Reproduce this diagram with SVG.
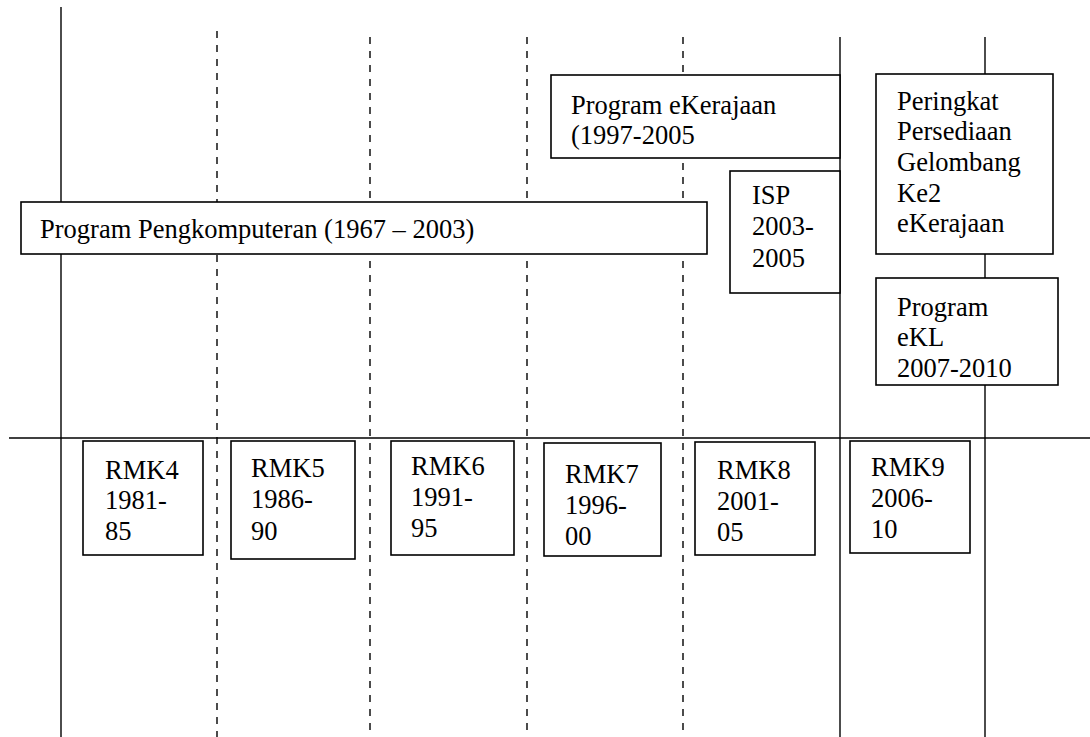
<svg xmlns="http://www.w3.org/2000/svg" width="1090" height="737" viewBox="0 0 1090 737">
<style>
.ln{stroke:#000;stroke-width:1.4;fill:none}
.ds{stroke:#000;stroke-width:1.4;fill:none;stroke-dasharray:7 7}
.bx{fill:#fff;stroke:#000;stroke-width:1.6}
text{font-family:"Liberation Serif","Times New Roman",serif;font-size:26.5px;fill:#000}
</style>
<rect width="1090" height="737" fill="#fff"/>
<g id="connectors">
<line class="ln" x1="61" y1="7" x2="61" y2="737"/>
<line class="ds" x1="217" y1="31" x2="217" y2="737"/>
<line class="ds" x1="370" y1="37" x2="370" y2="737"/>
<line class="ds" x1="527" y1="37" x2="527" y2="737"/>
<line class="ds" x1="683" y1="37" x2="683" y2="737"/>
<line class="ln" x1="840" y1="37" x2="840" y2="737"/>
<line class="ln" x1="985" y1="37" x2="985" y2="737"/>
<line class="ln" x1="9" y1="438" x2="1090" y2="438"/>
</g>
<g id="pengkomputeran">
<rect class="bx" x="21" y="202" width="686" height="52"/>
<text x="40" y="238">Program Pengkomputeran (1967 – 2003)</text>
</g>
<g id="ekerajaan">
<rect class="bx" x="551" y="75" width="289" height="83"/>
<text x="571" y="114">Program eKerajaan</text>
<text x="571" y="144">(1997-2005</text>
</g>
<g id="isp">
<rect class="bx" x="730" y="171" width="110" height="122"/>
<text x="752" y="204">ISP</text>
<text x="752" y="235">2003-</text>
<text x="752" y="267">2005</text>
</g>
<g id="peringkat">
<rect class="bx" x="876" y="74" width="177" height="180"/>
<text x="897" y="110">Peringkat</text>
<text x="897" y="140">Persediaan</text>
<text x="897" y="171">Gelombang</text>
<text x="897" y="202">Ke2</text>
<text x="897" y="232">eKerajaan</text>
</g>
<g id="ekl">
<rect class="bx" x="876" y="278" width="182" height="107"/>
<text x="897" y="316">Program</text>
<text x="897" y="346">eKL</text>
<text x="897" y="377">2007-2010</text>
</g>
<g id="rmk4">
<rect class="bx" x="83" y="441" width="120" height="114"/>
<text x="105" y="479">RMK4</text>
<text x="105" y="509">1981-</text>
<text x="105" y="540">85</text>
</g>
<g id="rmk5">
<rect class="bx" x="231" y="441" width="124" height="118"/>
<text x="251" y="477">RMK5</text>
<text x="251" y="508">1986-</text>
<text x="251" y="540">90</text>
</g>
<g id="rmk6">
<rect class="bx" x="391" y="441" width="123" height="114"/>
<text x="411" y="475">RMK6</text>
<text x="411" y="506">1991-</text>
<text x="411" y="537">95</text>
</g>
<g id="rmk7">
<rect class="bx" x="544" y="443" width="117" height="113"/>
<text x="565" y="483">RMK7</text>
<text x="565" y="514">1996-</text>
<text x="565" y="545">00</text>
</g>
<g id="rmk8">
<rect class="bx" x="695" y="442" width="120" height="113"/>
<text x="717" y="479">RMK8</text>
<text x="717" y="510">2001-</text>
<text x="717" y="541">05</text>
</g>
<g id="rmk9">
<rect class="bx" x="850" y="441" width="120" height="112"/>
<text x="871" y="476">RMK9</text>
<text x="871" y="507">2006-</text>
<text x="871" y="538">10</text>
</g>
</svg>
